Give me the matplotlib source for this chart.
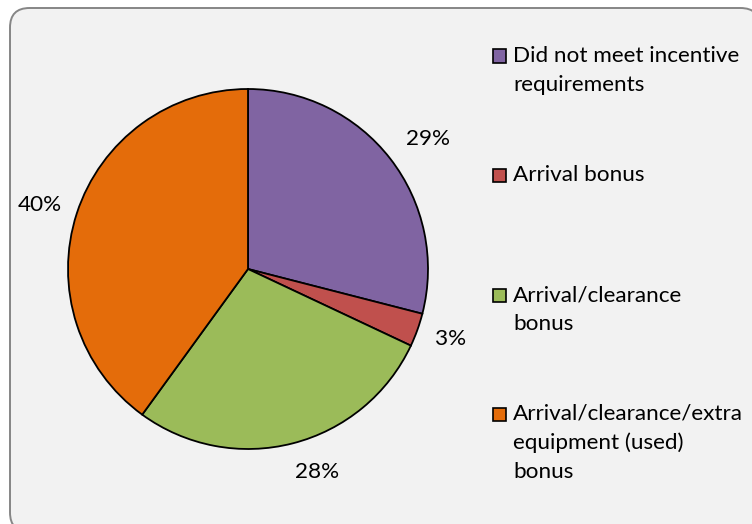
import matplotlib
matplotlib.use('Agg')
import matplotlib.pyplot as plt
from matplotlib.patches import FancyBboxPatch, Rectangle
import numpy as np

plt.rcParams['font.family'] = ['Lato', 'DejaVu Sans']

categories = ['Did not meet incentive\nrequirements',
              'Arrival bonus',
              'Arrival/clearance\nbonus',
              'Arrival/clearance/extra\nequipment (used)\nbonus']
shares = [29, 3, 28, 40]
colors = ['#8064A2', '#C0504D', '#9BBB59', '#E46C0A']
# where the % labels sit: distance from centre (in radii) and a small turn (deg)
label_dist = [1.23, 1.19, 1.19, 1.21]
label_turn = [-2.0, 0.8, 4.4, 0.9]

W, H = 752, 524
fig = plt.figure(figsize=(W / 100, H / 100), dpi=100)
fig.patch.set_facecolor('white')

def fx(px):
    return px / W

def fy(py):
    return 1 - py / H

# chart area: light grey rounded box, cut off on the right and bottom
box = FancyBboxPatch((fx(10), fy(532)), fx(760) - fx(10), fy(8) - fy(532),
                     boxstyle='round,pad=0,rounding_size=0.026',
                     transform=fig.transFigure, facecolor='#F2F2F2',
                     edgecolor='#868686', linewidth=1.4,
                     mutation_aspect=W / H, zorder=-5)
fig.patches.append(box)

# pie: center (248, 269), radius 180 px
cx, cy, r = 248, 269, 180
ax = fig.add_axes([fx(cx - r), fy(cy + r), 2 * r / W, 2 * r / H])
ax.set_zorder(2)
ax.set_facecolor('none')
wedges, _ = ax.pie(shares, colors=colors, startangle=90, counterclock=False,
                   wedgeprops=dict(edgecolor='black', linewidth=1.3))
ax.set_xlim(-1, 1)
ax.set_ylim(-1, 1)
ax.axis('off')

fs = 16.2
for w, val, d, t in zip(wedges, shares, label_dist, label_turn):
    ang = np.deg2rad((w.theta1 + w.theta2) / 2 + t)
    ax.text(d * np.cos(ang), d * np.sin(ang), f'{val}%', ha='center',
            va='center', fontsize=fs, color='black', clip_on=False)

# legend, drawn by hand so the marker sits on the first line
leg_y = [56, 175, 295, 414]
line_h = 29
for lab, col, y0 in zip(categories, colors, leg_y):
    fig.patches.append(Rectangle((fx(493), fy(y0 + 6.5)), 13 / W, 13 / H,
                                 transform=fig.transFigure, facecolor=col,
                                 edgecolor='black', linewidth=1.2, zorder=3))
    for i, line in enumerate(lab.split('\n')):
        fig.text(fx(513), fy(y0 + i * line_h), line, ha='left', va='center',
                 fontsize=fs, color='black', zorder=3)

fig.savefig('out.png', dpi=100)
